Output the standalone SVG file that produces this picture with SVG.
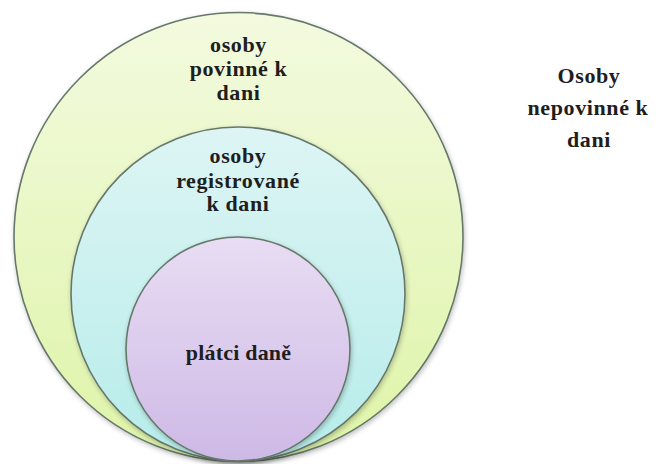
<svg xmlns="http://www.w3.org/2000/svg" width="660" height="464" viewBox="0 0 660 464">
<defs>
<linearGradient id="gOuter" x1="0" y1="0" x2="0" y2="1">
<stop offset="0" stop-color="#f3fadf"/>
<stop offset="1" stop-color="#def4a8"/>
</linearGradient>
<linearGradient id="gMid" x1="0" y1="0" x2="0" y2="1">
<stop offset="0" stop-color="#ddf5f4"/>
<stop offset="1" stop-color="#b6ecea"/>
</linearGradient>
<linearGradient id="gInner" x1="0" y1="0" x2="0" y2="1">
<stop offset="0" stop-color="#e8ddf3"/>
<stop offset="1" stop-color="#ceb9e6"/>
</linearGradient>
<filter id="shadow" x="-10%" y="-10%" width="120%" height="120%">
<feGaussianBlur in="SourceAlpha" stdDeviation="2.5"/>
<feOffset dx="1" dy="2" result="b"/>
<feComponentTransfer><feFuncA type="linear" slope="0.25"/></feComponentTransfer>
<feMerge><feMergeNode/><feMergeNode in="SourceGraphic"/></feMerge>
</filter>
</defs>
<style>
.ring{stroke:#66786a;stroke-width:1.6}
text{font-family:'Liberation Serif','DejaVu Serif',serif;font-weight:bold;font-size:22px;fill:#1e1e1e;text-anchor:middle;letter-spacing:0.6px}
</style>
<rect width="660" height="464" fill="#ffffff"/>
<g id="outer">
<circle class="ring" cx="238.5" cy="237" r="224.5" fill="url(#gOuter)" filter="url(#shadow)"/>
<text x="238.5" y="52" font-family="Liberation Serif, serif">osoby</text>
<text x="238.5" y="76" font-family="Liberation Serif, serif">povinné k</text>
<text x="238.5" y="100" font-family="Liberation Serif, serif">dani</text>
</g>
<g id="middle">
<circle class="ring" cx="238" cy="294" r="167" fill="url(#gMid)" filter="url(#shadow)"/>
<text x="238" y="163" font-family="Liberation Serif, serif">osoby</text>
<text x="238" y="188" font-family="Liberation Serif, serif">registrované</text>
<text x="238" y="211" font-family="Liberation Serif, serif">k dani</text>
</g>
<g id="inner">
<circle class="ring" cx="238" cy="349" r="112" fill="url(#gInner)" filter="url(#shadow)"/>
<text x="238.5" y="360" font-family="Liberation Serif, serif" style="letter-spacing:0.2px">plátci daně</text>
</g>
<g id="outside">
<text x="589" y="83" font-family="Liberation Serif, serif">Osoby</text>
<text x="588" y="115" font-family="Liberation Serif, serif">nepovinné k</text>
<text x="589" y="147" font-family="Liberation Serif, serif">dani</text>
</g>
<g id="connectors"/>
</svg>
